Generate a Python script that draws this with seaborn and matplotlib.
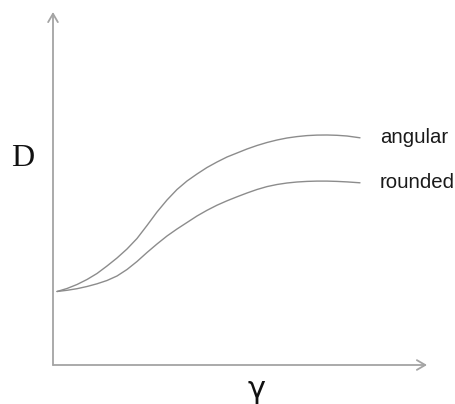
import matplotlib
matplotlib.use("Agg")
import matplotlib.pyplot as plt
import seaborn as sns
import pandas as pd

# Schematic D-versus-gamma curves for two particle shapes (arbitrary units)
gamma = [0.4, 1.4, 2.4, 3.4, 4.4, 5.4, 6.4, 7.4, 8.4, 9.4, 10.4, 11.4, 12.4,
         13.4, 14.4, 15.4, 16.4, 17.4, 18.4, 19.4, 20.4, 21.4, 22.4, 23.4,
         24.4, 25.4, 26.4, 27.4, 28.4, 29.4, 30.7]
d_angular = [7.35, 7.65, 8.05, 8.55, 9.15, 9.9, 10.7, 11.6, 12.65, 13.95,
             15.3, 16.5, 17.55, 18.4, 19.1, 19.75, 20.3, 20.8, 21.2, 21.6,
             21.95, 22.25, 22.5, 22.7, 22.84, 22.94, 22.99, 23.0, 22.97,
             22.9, 22.72]
d_rounded = [7.35, 7.47, 7.63, 7.85, 8.12, 8.45, 8.9, 9.55, 10.35, 11.25,
             12.1, 12.9, 13.6, 14.25, 14.9, 15.47, 15.98, 16.42, 16.82, 17.2,
             17.55, 17.84, 18.05, 18.2, 18.3, 18.36, 18.39, 18.39, 18.36,
             18.31, 18.22]
shapes = ["angular", "rounded"]

df = pd.concat([
    pd.DataFrame({"gamma": gamma, "D": d_angular, "shape": "angular"}),
    pd.DataFrame({"gamma": gamma, "D": d_rounded, "shape": "rounded"}),
])

sns.set_style("white")
plt.rcParams["font.family"] = ["Liberation Sans", "DejaVu Sans"]

fig = plt.figure(figsize=(4.56, 4.04), dpi=100)
ax = fig.add_axes([53 / 456, 39 / 404, 374 / 456, 353 / 404])

line_color = "#8c8c8c"
sns.lineplot(data=df, x="gamma", y="D", hue="shape", hue_order=shapes,
             palette=[line_color, line_color], linewidth=1.0, legend=False,
             sort=False, ax=ax)

ax.set_xlim(0, 37.4)
ax.set_ylim(0, 35.3)
for s in ax.spines.values():
    s.set_visible(False)
ax.set_xticks([])
ax.set_yticks([])
ax.set_xlabel("")
ax.set_ylabel("")

# Axis arrows
axis_color = "#a4a4a4"
arrow = dict(arrowstyle="->,head_length=0.6,head_width=0.35", color=axis_color,
             lw=1.3, shrinkA=0, shrinkB=0)
ax.annotate("", xy=(1, 0), xytext=(0, 0), xycoords="axes fraction",
            textcoords="axes fraction", arrowprops=arrow, annotation_clip=False)
ax.annotate("", xy=(0, 1), xytext=(0, 0), xycoords="axes fraction",
            textcoords="axes fraction", arrowprops=arrow, annotation_clip=False)

# Curve labels at the right-hand ends
ends = {"angular": d_angular[-1], "rounded": d_rounded[-1]}
for name in shapes:
    ax.text(32.7, ends[name] + 0.05, name, fontsize=14.7, color="#1a1a1a",
            ha="left", va="center", clip_on=False)

# Axis titles
ax.text(-0.08, 0.586, "D", transform=ax.transAxes, fontsize=23,
        family="Liberation Serif", ha="center", va="center", color="#111111")
ax.text(0.545, -0.094, "γ", transform=ax.transAxes, fontsize=22,
        family="DejaVu Sans", ha="center", va="baseline", color="#111111")

fig.savefig("out.png", dpi=100)
